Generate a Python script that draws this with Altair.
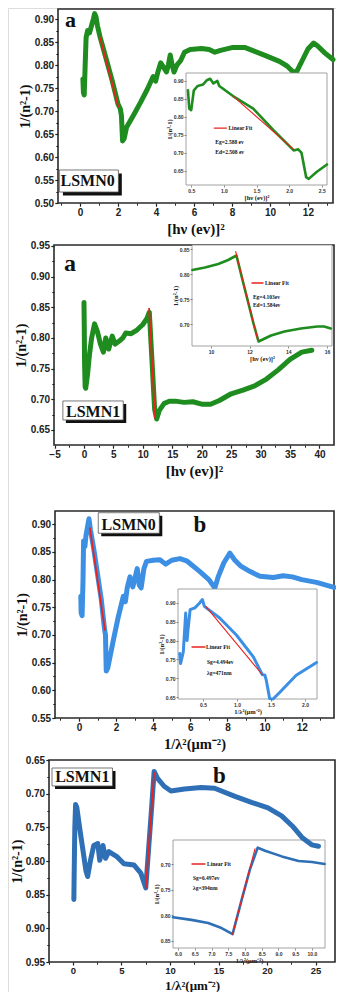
import altair as alt
import pandas as pd

W, H = 328, 984
M = 8  # page margin

GREEN = "#1e8c1e"
BLUE_L = "#3d8fe4"
BLUE_D = "#2e6fb6"
RED = "#e8231f"
SERIF = "Liberation Serif"
SANS = "Liberation Sans"

# ---------------- data ----------------
# (a) LSMN0 : 1/(n^2-1) vs (hv)^2
a0_x = [0.15, 0.18, 0.22, 0.27, 0.32, 0.40, 0.50, 0.60, 0.70, 0.77,
        0.84, 0.92, 1.05, 1.40, 1.70, 2.00, 2.12, 2.18, 2.24, 2.32,
        2.45, 2.80, 3.20, 3.55, 3.85, 3.98, 4.10, 4.25, 4.40, 4.55,
        4.65, 4.75, 4.85, 4.95, 5.10, 5.30, 5.50, 5.80, 6.40, 6.80,
        7.10, 7.40, 8.00, 8.70, 9.20, 9.80, 10.50, 10.90, 11.20, 11.40,
        11.70, 12.00, 12.30, 12.50, 12.90, 13.32]
a0_y = [0.770, 0.740, 0.735, 0.800, 0.860, 0.875, 0.870, 0.885, 0.900, 0.912,
        0.905, 0.885, 0.862, 0.810, 0.765, 0.715, 0.705, 0.690, 0.635, 0.640,
        0.665, 0.690, 0.720, 0.748, 0.775, 0.765, 0.785, 0.805, 0.795, 0.785,
        0.800, 0.822, 0.800, 0.785, 0.800, 0.810, 0.828, 0.834, 0.836, 0.834,
        0.828, 0.832, 0.838, 0.838, 0.830, 0.820, 0.808, 0.798, 0.786, 0.785,
        0.810, 0.835, 0.848, 0.842, 0.826, 0.812]
a0_fit_x = [1.05, 2.01]
a0_fit_y = [0.860, 0.710]
a0i_x = [0.45, 0.47, 0.50, 0.54, 0.60, 0.68, 0.74, 0.79, 0.84, 0.90,
         0.93, 1.14, 1.45, 1.76, 2.07, 2.14, 2.19, 2.26, 2.30, 2.42, 2.58]
a0i_y = [0.874, 0.823, 0.819, 0.874, 0.886, 0.890, 0.902, 0.906, 0.893, 0.900,
         0.886, 0.858, 0.823, 0.763, 0.707, 0.710, 0.700, 0.633, 0.628, 0.647, 0.668]
a0i_fit_x = [1.14, 2.07]
a0i_fit_y = [0.858, 0.710]

# (a) LSMN1
a1_x = [0.00, 0.05, 0.10, 0.20, 0.30, 0.60, 0.90, 1.30, 1.80, 2.30,
        2.80, 3.30, 3.70, 4.20, 4.80, 5.30, 6.00, 6.60, 7.10, 8.00,
        9.00, 10.00, 10.70, 11.10, 11.40, 11.70, 12.00, 12.35, 12.80, 13.60,
        14.50, 15.50, 17.00, 18.50, 20.00, 21.50, 23.00, 25.00, 27.00, 29.00,
        31.00, 33.00, 35.00, 37.00, 38.70]
a1_y = [0.858, 0.820, 0.760, 0.720, 0.718, 0.740, 0.770, 0.800, 0.823, 0.810,
        0.790, 0.777, 0.800, 0.782, 0.803, 0.790, 0.795, 0.800, 0.808, 0.807,
        0.813, 0.822, 0.832, 0.842, 0.790, 0.737, 0.684, 0.668, 0.682, 0.693,
        0.697, 0.697, 0.695, 0.696, 0.692, 0.692, 0.698, 0.709, 0.715, 0.722,
        0.733, 0.748, 0.765, 0.777, 0.780]
a1_fit_x = [11.06, 12.08]
a1_fit_y = [0.848, 0.669]
a1i_x = [9.04, 9.69, 10.38, 10.89, 11.32, 11.60, 11.90, 12.20, 12.46, 13.11,
         13.80, 14.65, 15.50, 15.85, 16.20]
a1i_y = [0.808, 0.813, 0.820, 0.828, 0.837, 0.793, 0.747, 0.701, 0.665, 0.677,
         0.685, 0.691, 0.695, 0.695, 0.691]
a1i_fit_x = [11.28, 12.43]
a1i_fit_y = [0.845, 0.667]

# (b) LSMN0 : 1/(n^2-1) vs 1/lambda^2
b0_x = [0.10, 0.12, 0.17, 0.22, 0.25, 0.32, 0.38, 0.46, 0.54, 0.62,
        0.80, 1.00, 1.20, 1.38, 1.43, 1.47, 1.55, 1.85, 2.10, 2.39,
        2.50, 2.60, 2.75, 2.90, 3.00, 3.14, 3.25, 3.35, 3.50, 3.64,
        4.00, 4.36, 4.67, 5.00, 5.44, 5.80, 6.50, 7.00, 7.32, 7.50,
        7.80, 8.13, 8.40, 8.70, 9.20, 9.75, 10.47, 11.00, 11.50, 12.00,
        12.80, 13.74]
b0_y = [0.770, 0.740, 0.735, 0.800, 0.870, 0.860, 0.880, 0.895, 0.910, 0.890,
        0.855, 0.810, 0.765, 0.710, 0.700, 0.635, 0.640, 0.690, 0.730, 0.770,
        0.760, 0.785, 0.805, 0.787, 0.800, 0.820, 0.790, 0.785, 0.820, 0.833,
        0.835, 0.836, 0.828, 0.835, 0.838, 0.834, 0.815, 0.800, 0.785, 0.805,
        0.830, 0.848, 0.835, 0.825, 0.815, 0.806, 0.804, 0.807, 0.805, 0.800,
        0.795, 0.786]
b0_fit_x = [0.59, 1.40]
b0_fit_y = [0.893, 0.709]
b0i_x = [0.157, 0.17, 0.21, 0.245, 0.265, 0.28, 0.31, 0.38, 0.45, 0.49,
         0.52, 0.745, 0.99, 1.24, 1.37, 1.41, 1.43, 1.48, 1.53, 1.63,
         1.87, 2.17]
b0i_y = [0.766, 0.739, 0.770, 0.873, 0.800, 0.830, 0.882, 0.887, 0.900, 0.909,
         0.891, 0.860, 0.815, 0.757, 0.710, 0.708, 0.695, 0.646, 0.640, 0.663,
         0.708, 0.742]
b0i_fit_x = [0.54, 1.37]
b0i_fit_y = [0.891, 0.710]

# (b) LSMN1
b1_x = [0.10, 0.15, 0.20, 0.28, 0.40, 0.76, 1.10, 1.35, 1.52, 1.80,
        2.15, 2.56, 2.77, 3.10, 3.36, 3.70, 4.57, 5.26, 6.30, 7.00,
        7.51, 7.80, 8.10, 8.37, 8.70, 9.40, 10.10, 11.50, 13.20, 14.60,
        16.70, 18.40, 20.10, 21.50, 22.60, 23.60, 24.60, 25.30]
b1_y = [0.857, 0.800, 0.750, 0.716, 0.720, 0.757, 0.790, 0.815, 0.823, 0.800,
        0.777, 0.774, 0.799, 0.777, 0.796, 0.786, 0.794, 0.804, 0.806, 0.818,
        0.840, 0.782, 0.723, 0.667, 0.677, 0.689, 0.696, 0.693, 0.691, 0.692,
        0.704, 0.713, 0.721, 0.733, 0.748, 0.765, 0.776, 0.778]
b1_fit_x = [7.51, 8.37]
b1_fit_y = [0.840, 0.669]
b1i_x = [5.85, 6.40, 6.90, 7.30, 7.63, 7.90, 8.15, 8.38, 8.60, 9.10,
         9.60, 10.00, 10.38]
b1i_y = [0.804, 0.809, 0.815, 0.825, 0.837, 0.770, 0.710, 0.668, 0.674, 0.685,
         0.694, 0.696, 0.700]
b1i_fit_x = [7.63, 8.30]
b1i_fit_y = [0.837, 0.670]

# tick values
a0_xt = [0, 2, 4, 6, 8, 10, 12]
a0_xm = [-1, 1, 3, 5, 7, 9, 11, 13]
a0_yt = [0.50, 0.55, 0.60, 0.65, 0.70, 0.75, 0.80, 0.85, 0.90]
a0i_xt = [0.5, 1.0, 1.5, 2.0, 2.5]
a0i_yt = [0.65, 0.70, 0.75, 0.80, 0.85, 0.90]
a1_xt = [-5, 0, 5, 10, 15, 20, 25, 30, 35, 40]
a1_xm = [-2.5, 2.5, 7.5, 12.5, 17.5, 22.5, 27.5, 32.5, 37.5]
a1_yt = [0.65, 0.70, 0.75, 0.80, 0.85, 0.90, 0.95]
a1i_xt = [10, 12, 14, 16]
a1i_yt = [0.70, 0.75, 0.80, 0.85]
b0_xt = [0, 2, 4, 6, 8, 10, 12]
b0_xm = [-1, 1, 3, 5, 7, 9, 11, 13]
b0_yt = [0.55, 0.60, 0.65, 0.70, 0.75, 0.80, 0.85, 0.90]
b0i_xt = [0.5, 1.0, 1.5, 2.0]
b0i_yt = [0.65, 0.70, 0.75, 0.80, 0.85, 0.90]
b1_xt = [0, 5, 10, 15, 20, 25]
b1_xm = [-2.5, 2.5, 7.5, 12.5, 17.5, 22.5]
b1_yt = [0.65, 0.70, 0.75, 0.80, 0.85, 0.90, 0.95]
b1i_xt = [6.0, 6.5, 7.0, 7.5, 8.0, 8.5, 9.0, 9.5, 10.0]
b1i_yt = [0.70, 0.75, 0.80, 0.85]

T_HV = "[hν (ev)]²"
T_N = "1/(n²-1)"
T_L = "1/λ²(μm⁻²)"


# ---------------- helpers ----------------
class Box:
    """Placement of one plot area (page pixels) and its data domain."""

    def __init__(self, l, r, t, b, xd, yd, rev=False):
        self.l, self.r, self.t, self.b = l, r, t, b
        self.xd, self.yd, self.rev = xd, yd, rev

    def xs(self):
        return alt.Scale(domain=self.xd, range=[self.l - M, self.r - M],
                         zero=False, nice=False, clamp=True)

    def ys(self):
        yr = [self.t - M, self.b - M] if self.rev else [self.b - M, self.t - M]
        return alt.Scale(domain=self.yd, range=yr, zero=False, nice=False, clamp=True)

    def X(self, f, axis=None):
        return alt.X(f, type="quantitative", scale=self.xs(), axis=axis)

    def Y(self, f, axis=None):
        return alt.Y(f, type="quantitative", scale=self.ys(), axis=axis)


def axis_style(kind):
    if kind == "inset":
        return dict(domain=False, grid=False, tickSize=2, tickWidth=0.6, tickColor="#444",
                    labelFont=SANS, labelFontSize=5, labelFontWeight="bold", labelColor="#333",
                    labelPadding=1, labelFlush=False, labelOverlap=False,
                    titleFont=SERIF, titleFontSize=6.5, titleFontWeight="bold",
                    titleColor="#222", titlePadding=1, zindex=1)
    if kind == "minor":
        return dict(domain=False, grid=False, tickSize=2.2, tickWidth=1, tickColor="#222",
                    labels=False, zindex=1)
    return dict(domain=False, grid=False, tickWidth=1.2, tickColor="#222",
                labelFont=SANS, labelFontWeight="bold", labelColor="#222",
                labelFlush=False, labelOverlap=False,
                titleFont=SERIF, titleFontWeight="bold", titleColor="#111", zindex=1)


def line(B, x, y, color, sw):
    d = pd.DataFrame({"x": x, "y": y, "i": list(range(len(x)))})
    return alt.Chart(d).mark_line(color=color, strokeWidth=sw, strokeCap="round",
                                  strokeJoin="round").encode(
        x=B.X("x"), y=B.Y("y"), order="i:Q")


def rect(B, x0, x1, y0, y1, **kw):
    d = pd.DataFrame({"x0": [x0], "x1": [x1], "y0": [y0], "y1": [y1]})
    return alt.Chart(d).mark_rect(**kw).encode(
        x=B.X("x0"), x2=alt.X2("x1"), y=B.Y("y0"), y2=alt.Y2("y1"))


def text(B, x, y, s, size, align="left", baseline="alphabetic", font=SERIF):
    d = pd.DataFrame({"x": [x], "y": [y], "t": [s]})
    return alt.Chart(d).mark_text(align=align, baseline=baseline, font=font, fontSize=size,
                                  fontWeight="bold", color="#111").encode(
        x=B.X("x"), y=B.Y("y"), text="t:N")


def framed(B, kind, xt, xfmt, xtitle, yt, yfmt, ytitle, tx=None):
    st = axis_style(kind)
    if kind == "minor":
        ax = alt.Axis(orient="bottom", offset=(B.b - M) - H, values=xt, title=None, **st)
        ay = alt.Axis(orient="left", offset=-(B.l - M), values=yt, title=None, **st)
    elif kind == "inset":
        ax = alt.Axis(orient="bottom", offset=(B.b - M) - H, values=xt, format=xfmt,
                      title=xtitle, **st)
        ay = alt.Axis(orient="left", offset=-(B.l - M), values=yt, format=yfmt,
                      title=ytitle, **st)
    else:
        xsize, xty, ypad, lsize, tsz, lpad = tx
        ax = alt.Axis(orient="bottom", offset=(B.b - M) - H, values=xt, format=xfmt,
                      title=xtitle, titleFontSize=xsize, titleY=xty,
                      titleBaseline="alphabetic", labelFontSize=lsize,
                      tickSize=tsz, labelPadding=lpad, **st)
        ay = alt.Axis(orient="left", offset=-(B.l - M), values=yt, format=yfmt,
                      title=ytitle, titleFontSize=14, titlePadding=ypad,
                      labelFontSize=10, tickSize=3.2, labelPadding=1.2, **st)
    d = pd.DataFrame({"x0": [B.xd[0]], "x1": [B.xd[1]], "y0": [B.yd[0]], "y1": [B.yd[1]]})
    if kind == "inset":
        m = alt.Chart(d).mark_rect(fill="white", stroke="#8a8a8a", strokeWidth=0.8)
    elif kind == "minor":
        m = alt.Chart(d).mark_rect(opacity=0)
    else:
        m = alt.Chart(d).mark_rect(fillOpacity=0, stroke="#2a2a2a", strokeWidth=1.6)
    return m.encode(x=B.X("x0", ax), x2=alt.X2("x1"), y=B.Y("y0", ay), y2=alt.Y2("y1"))


def main_panel(B, xt, xm, xfmt, xtitle, yt, yfmt, ytitle, sx, sy, color, fx, fy,
               letter, label, tx):
    ymin = [round(v + 0.025, 3) for v in yt[:-1]]
    out = [framed(B, "main", xt, xfmt, xtitle, yt, yfmt, ytitle, tx),
           framed(B, "minor", xm, None, None, ymin, None, None),
           line(B, sx, sy, color, 5),
           line(B, fx, fy, RED, 1.8)]
    lx, ly, ls, lsize = letter
    out.append(text(B, lx, ly, ls, lsize, align="center", baseline="middle"))
    (bx0, bx1, by0, by1), (sx0, sx1, sy0, sy1), (tx_, ty_), name = label
    out.append(rect(B, sx0, sx1, sy0, sy1, fill="#111"))
    out.append(rect(B, bx0, bx1, by0, by1, fill="white", stroke="#555", strokeWidth=0.8))
    out.append(text(B, tx_, ty_, name, 16, align="center"))
    return out


def inset_panel(B, xt, xfmt, xtitle, yt, yfmt, ytitle, sx, sy, color, sw, fx, fy,
                legend, notes):
    out = [framed(B, "inset", xt, xfmt, xtitle, yt, yfmt, ytitle),
           line(B, sx, sy, color, sw),
           line(B, fx, fy, RED, 1.1)]
    lx0, lx1, lyv, ltx = legend
    out.append(line(B, [lx0, lx1], [lyv, lyv], RED, 1.4))
    out.append(text(B, ltx, lyv, "Linear Fit", 5.5, baseline="middle"))
    for nx, ny, s in notes:
        out.append(text(B, nx, ny, s, 5.5, baseline="middle"))
    return out


# ---------------- panels ----------------
B1 = Box(58, 333, 9, 203, [-1.16, 13.32], [0.50, 0.922])
P1 = main_panel(B1, a0_xt, a0_xm, "d", T_HV, a0_yt, ".2f", T_N,
                a0_x, a0_y, GREEN, a0_fit_x, a0_fit_y,
                (-0.5, 0.898, "a", 22),
                ((-1.09, 2.02, 0.5718, 0.5239), (-0.90, 2.20, 0.5642, 0.5163), (0.40, 0.538), "LSMN0"),
                (15, 30, 2, 10, 3.2, 1.2))
BI1 = Box(186, 327, 73, 185, [0.42, 2.58], [0.611, 0.922])
I1 = inset_panel(BI1, a0i_xt, ".1f", T_HV, a0i_yt, ".2f", T_N,
                 a0i_x, a0i_y, GREEN, 2.6, a0i_fit_x, a0i_fit_y,
                 (0.854, 1.038, 0.769, 1.07),
                 [(0.869, 0.731, "Eg=2.588 ev"), (0.869, 0.703, "Ed=2.508 ev")])

B2 = Box(54, 334, 245, 445, [-5.09, 42.47], [0.6255, 0.9516])
P2 = main_panel(B2, a1_xt, a1_xm, "d", T_HV, a1_yt, ".2f", T_N,
                a1_x, a1_y, GREEN, a1_fit_x, a1_fit_y,
                (-2.39, 0.921, "a", 24),
                ((-3.58, 6.67, 0.6973, 0.6663), (-3.07, 7.18, 0.6924, 0.6614), (1.55, 0.6712), "LSMN1"),
                (15, 30, 2, 10, 3.2, 1.2))
BI2 = Box(192, 332, 245, 346, [9.02, 16.26], [0.656, 0.858])
I2 = inset_panel(BI2, a1i_xt, "d", T_HV, a1i_yt, ".2f", T_N,
                 a1i_x, a1i_y, GREEN, 2.6, a1i_fit_x, a1i_fit_y,
                 (12.12, 12.69, 0.782, 12.79),
                 [(12.17, 0.754, "Eg=4.103ev"), (12.17, 0.738, "Ed=1.584ev")])

B3 = Box(55, 334, 511, 718, [-1.29, 13.74], [0.55, 0.924])
P3 = main_panel(B3, b0_xt, b0_xm, "d", T_L, b0_yt, ".2f", T_N,
                b0_x, b0_y, BLUE_L, b0_fit_x, b0_fit_y,
                (6.52, 0.899, "b", 23),
                ((1.04, 4.33, 0.9209, 0.8838), (1.20, 4.49, 0.9155, 0.8784), (2.68, 0.8897), "LSMN0"),
                (14.5, 30, 2, 10, 3.2, 1.2))
BI3 = Box(178, 317, 589, 699, [0.132, 2.176], [0.645, 0.937])
I3 = inset_panel(BI3, b0i_xt, ".1f", T_L, b0i_yt, ".2f", T_N,
                 b0i_x, b0i_y, BLUE_L, 3.0, b0i_fit_x, b0i_fit_y,
                 (0.338, 0.529, 0.783, 0.545),
                 [(0.559, 0.743, "Sg=4.494ev"), (0.559, 0.714, "λg=471nm")])

B4 = Box(49, 335, 760, 962, [-2.46, 27.0], [0.65, 0.95], rev=True)
P4 = main_panel(B4, b1_xt, b1_xm, "d", T_L, b1_yt, ".2f", T_N,
                b1_x, b1_y, BLUE_D, b1_fit_x, b1_fit_y,
                (15.1, 0.674, "b", 23),
                ((-2.15, 4.08, 0.6619, 0.6886), (-1.84, 4.39, 0.6664, 0.6931), (0.97, 0.6827), "LSMN1"),
                (13, 27, 0.5, 9.5, 3, 0.8))
BI4 = Box(173, 325, 840, 948, [5.85, 10.39], [0.653, 0.864], rev=True)
I4 = inset_panel(BI4, b1i_xt, ".1f", T_L, b1i_yt, ".2f", T_N,
                 b1i_x, b1i_y, BLUE_D, 2.6, b1i_fit_x, b1i_fit_y,
                 (6.418, 6.806, 0.700, 6.866),
                 [(6.448, 0.7273, "Sg=6.497ev"), (6.448, 0.7467, "λg=394nm")])

children = P1 + I1 + P2 + I2 + P3 + I3 + I4 + P4

chart = alt.layer(*children).resolve_scale(x="independent", y="independent").properties(
    width=W, height=H, autosize=alt.AutoSizeParams(type="none"), padding=0
).configure_view(stroke=None).configure(background="white")

chart.save("out.html", embed_options={"renderer": "svg", "actions": False})
